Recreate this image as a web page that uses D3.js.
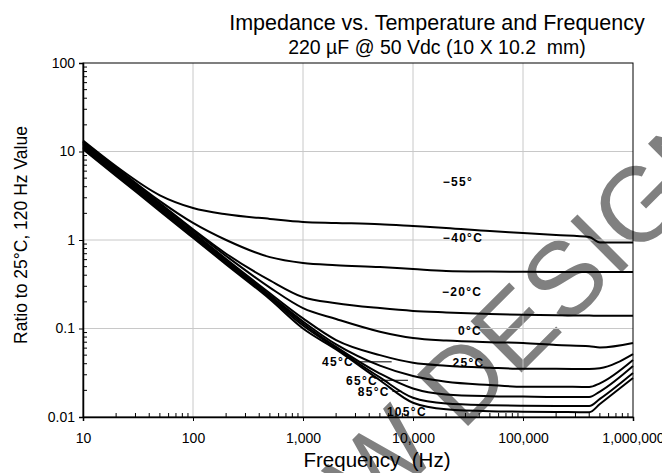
<!DOCTYPE html>
<html>
<head>
<meta charset="utf-8">
<script src="https://cdn.jsdelivr.net/npm/d3@7"></script>
<style>
  body { margin: 0; background: #fff; }
  text { font-family: Arial, "Liberation Sans", sans-serif; white-space: pre; }
</style>
</head>
<body>
<div id="chart"></div>
<script>
// data
const freqHz = [10, 20, 50, 100, 200, 500, 1000, 2000, 5000, 10000, 20000, 50000, 100000, 200000, 400000, 500000, 1000000];
const ratioM55 = [13.3, 6.8, 3.2, 2.3, 1.95, 1.73, 1.6, 1.56, 1.51, 1.44, 1.37, 1.26, 1.2, 1.14, 1.08, 0.94, 0.94];
const ratioM40 = [13.0, 6.6, 2.75, 1.56, 1.0, 0.64, 0.55, 0.52, 0.495, 0.47, 0.447, 0.44, 0.437, 0.435, 0.435, 0.435, 0.435];
const ratioM20 = [12.8, 6.4, 2.6, 1.32, 0.7, 0.35, 0.226, 0.193, 0.17, 0.158, 0.152, 0.146, 0.143, 0.141, 0.14, 0.139, 0.139];
const ratio0 = [12.5, 6.3, 2.55, 1.28, 0.66, 0.29, 0.17, 0.128, 0.092, 0.078, 0.073, 0.07, 0.0686, 0.065, 0.063, 0.061, 0.0686];
const ratio25 = [12.2, 6.1, 2.45, 1.22, 0.61, 0.25, 0.13, 0.074, 0.05, 0.041, 0.038, 0.036, 0.035, 0.035, 0.0348, 0.0355, 0.0515];
const ratio45 = [11.8, 5.9, 2.36, 1.18, 0.59, 0.238, 0.12, 0.066, 0.038, 0.029, 0.025, 0.023, 0.022, 0.022, 0.0218, 0.024, 0.044];
const ratio65 = [11.4, 5.7, 2.28, 1.14, 0.57, 0.23, 0.114, 0.062, 0.031, 0.021, 0.018, 0.0172, 0.017, 0.0168, 0.0168, 0.0194, 0.0377];
const ratio85 = [11.0, 5.5, 2.2, 1.1, 0.55, 0.222, 0.108, 0.06, 0.028, 0.0165, 0.0142, 0.0136, 0.0134, 0.0133, 0.0133, 0.016, 0.0314];
const ratio105 = [10.6, 5.3, 2.12, 1.06, 0.53, 0.214, 0.1, 0.058, 0.026, 0.0145, 0.0122, 0.0116, 0.0115, 0.0114, 0.0113, 0.014, 0.0276];
const allSeries = [ratioM55, ratioM40, ratioM20, ratio0, ratio25, ratio45, ratio65, ratio85, ratio105];

// curve labels, placed in data units [freq, ratio]
const labelText = ["\u221255\u00b0", "\u221240\u00b0C", "\u221220\u00b0C", "0\u00b0C", "25\u00b0C", "45\u00b0C", "65\u00b0C", "85\u00b0C", "105\u00b0C"];
const labelFreq = [25600, 28500, 28000, 33000, 32000, 2080, 3440, 4400, 8800];
const labelRatio = [4.5, 1.05, 0.258, 0.094, 0.041, 0.042, 0.0255, 0.0191, 0.0114];
// short leader lines for the hot curves [from freq, to freq, ratio]
const leaders = [[3200, 6400, 0.042], [5100, 9000, 0.026], [6500, 7900, 0.0195]];

const xTicks = [10, 100, 1000, 10000, 100000, 1000000];
const yTicks = [0.01, 0.1, 1, 10, 100];

const w = 662, h = 473;
const pLeft = 83, pRight = 633, pTop = 63, pBottom = 417;

const svg = d3.select("#chart").append("svg")
  .attr("width", w).attr("height", h)
  .style("background", "#fff");

const x = d3.scaleLog().domain([10, 1000000]).range([pLeft, pRight]);
const y = d3.scaleLog().domain([0.01, 100]).range([pBottom, pTop]);

// watermark
const wm = svg.append("g")
  .attr("transform", "translate(462,432) rotate(-45)")
  .attr("fill", "#808080");
wm.append("text").attr("x", -29).attr("text-anchor", "end")
  .style("font-size", "105px").text("NOT FOR NEW");
wm.append("text").attr("x", 0)
  .style("font-size", "105px").text("DESIGN");

// grid
svg.append("g").selectAll("line")
  .data(xTicks.slice(1, -1)).enter().append("line")
  .attr("x1", d => x(d)).attr("x2", d => x(d))
  .attr("y1", pTop).attr("y2", pBottom)
  .attr("stroke", "#c8c8c8").attr("stroke-width", 1);
svg.append("g").selectAll("line")
  .data(yTicks.slice(1, -1)).enter().append("line")
  .attr("y1", d => y(d)).attr("y2", d => y(d))
  .attr("x1", pLeft).attr("x2", pRight)
  .attr("stroke", "#c8c8c8").attr("stroke-width", 1);

// frame
svg.append("rect")
  .attr("x", pLeft).attr("y", pTop)
  .attr("width", pRight - pLeft).attr("height", pBottom - pTop)
  .attr("fill", "none").attr("stroke", "#000").attr("stroke-width", 1);

// axes
const xAxis = d3.axisBottom(x).tickValues(xTicks).tickFormat(d3.format(",")).tickSize(4).tickPadding(12);
const yAxis = d3.axisLeft(y).tickValues(yTicks).tickFormat(d => String(d)).tickSize(4).tickPadding(4);

const gx = svg.append("g").attr("transform", "translate(0," + pBottom + ")").call(xAxis);
const gy = svg.append("g").attr("transform", "translate(" + pLeft + ",0)").call(yAxis);
[gx, gy].forEach(g => {
  g.select(".domain").attr("stroke-width", 1.5);
  g.selectAll("text").style("font-size", "14px").attr("fill", "#000")
    .style("font-family", "Arial, 'Liberation Sans', sans-serif");
});

// minor ticks pointing into the plot
const minorX = x.ticks().filter(d => xTicks.indexOf(d) < 0);
gx.append("g").selectAll("line").data(minorX).enter().append("line")
  .attr("x1", d => x(d)).attr("x2", d => x(d))
  .attr("y1", 0).attr("y2", -4).attr("stroke", "#000");
const minorY = y.ticks().filter(d => yTicks.indexOf(d) < 0);
gy.append("g").selectAll("line").data(minorY).enter().append("line")
  .attr("y1", d => y(d)).attr("y2", d => y(d))
  .attr("x1", 0).attr("x2", 4).attr("stroke", "#000");

// curves
const line = d3.line()
  .x((d, i) => x(freqHz[i]))
  .y(d => y(d))
  .curve(d3.curveMonotoneX);

svg.append("g").selectAll("path")
  .data(allSeries).enter().append("path")
  .attr("d", d => line(d))
  .attr("fill", "none")
  .attr("stroke", "#000")
  .attr("stroke-width", 2);

// leaders
svg.append("g").selectAll("line")
  .data(leaders).enter().append("line")
  .attr("x1", d => x(d[0])).attr("x2", d => x(d[1]))
  .attr("y1", d => y(d[2])).attr("y2", d => y(d[2]))
  .attr("stroke", "#000").attr("stroke-width", 1);

// labels
svg.append("g").selectAll("text")
  .data(labelText).enter().append("text")
  .attr("x", (d, i) => x(labelFreq[i]))
  .attr("y", (d, i) => y(labelRatio[i]))
  .attr("dy", "0.35em")
  .attr("text-anchor", "middle")
  .style("font-size", "12px")
  .style("font-weight", "bold")
  .style("letter-spacing", "1.3px")
  .text(d => d);

// titles
svg.append("text")
  .attr("x", 437).attr("y", 30)
  .attr("text-anchor", "middle")
  .style("font-size", "21.5px")
  .text("Impedance vs. Temperature and Frequency");

svg.append("text")
  .attr("x", 437).attr("y", 54)
  .attr("text-anchor", "middle")
  .style("font-size", "19.5px")
  .text("220 \u00b5F @ 50 Vdc (10 X 10.2  mm)");

svg.append("text")
  .attr("x", 377).attr("y", 467)
  .attr("text-anchor", "middle")
  .style("font-size", "20.5px")
  .text("Frequency  (Hz)");

svg.append("text")
  .attr("transform", "translate(27,235) rotate(-90)")
  .attr("text-anchor", "middle")
  .style("font-size", "17.5px")
  .text("Ratio to 25\u00b0C, 120 Hz Value");
</script>
</body>
</html>
